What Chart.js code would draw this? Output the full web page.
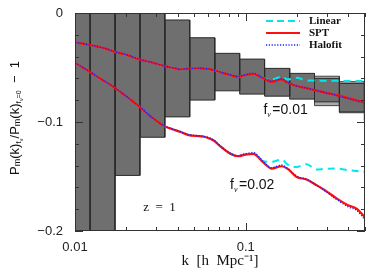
<!DOCTYPE html>
<html>
<head>
<meta charset="utf-8">
<script src="https://cdn.jsdelivr.net/npm/chart.js@4.4.0/dist/chart.umd.min.js"></script>
<style>
  html, body { margin: 0; padding: 0; background: #fff; }
  #wrap { width: 374px; height: 280px; position: relative; }
</style>
</head>
<body>
<div id="wrap"><canvas id="myChart" width="374" height="280"></canvas></div>
<script>
// DATA
const kGrid = [0.0100, 0.0123, 0.0150, 0.0170, 0.0197, 0.0239, 0.0288, 0.0334, 0.0377, 0.0413,
  0.0464, 0.0540, 0.0591, 0.0650, 0.0707, 0.0809, 0.0905, 0.0991, 0.1108, 0.1268,
  0.1419, 0.1624, 0.1761, 0.1987, 0.2274, 0.2602, 0.2909, 0.3406, 0.3981, 0.4459, 0.4986];

const spt01 = [-0.0267, -0.0295, -0.0325, -0.0355, -0.0380, -0.0425, -0.0458, -0.0487, -0.0505, -0.0517,
  -0.0511, -0.0508, -0.0513, -0.0524, -0.0542, -0.0568, -0.0585, -0.0570, -0.0560, -0.0600,
  -0.0631, -0.0610, -0.0640, -0.0670, -0.0690, -0.0712, -0.0730, -0.0753, -0.0780, -0.0800, -0.0815];
const halofit01 = [-0.0267, -0.0295, -0.0325, -0.0354, -0.0379, -0.0424, -0.0457, -0.0486, -0.0503, -0.0515,
  -0.0509, -0.0506, -0.0511, -0.0522, -0.0540, -0.0566, -0.0582, -0.0566, -0.0553, -0.0595,
  -0.0626, -0.0603, -0.0636, -0.0668, -0.0688, -0.0711, -0.0731, -0.0756, -0.0785, -0.0808, -0.0825];
const linear01 = [-0.0267, -0.0295, -0.0325, -0.0355, -0.0380, -0.0425, -0.0458, -0.0487, -0.0505, -0.0517,
  -0.0511, -0.0508, -0.0513, -0.0524, -0.0542, -0.0568, -0.0585, -0.0570, -0.0560, -0.0598,
  -0.0612, -0.0585, -0.0610, -0.0595, -0.0618, -0.0620, -0.0621, -0.0622, -0.0624, -0.0624, -0.0625];

const spt02 = [-0.0456, -0.0544, -0.0629, -0.0683, -0.0759, -0.0861, -0.0970, -0.1038, -0.1069, -0.1090,
  -0.1120, -0.1130, -0.1142, -0.1170, -0.1220, -0.1289, -0.1314, -0.1300, -0.1292, -0.1370,
  -0.1427, -0.1406, -0.1430, -0.1504, -0.1528, -0.1580, -0.1626, -0.1700, -0.1764, -0.1794, -0.1871];
const halofit02 = [-0.0455, -0.0542, -0.0627, -0.0681, -0.0757, -0.0859, -0.0968, -0.1036, -0.1066, -0.1087,
  -0.1117, -0.1126, -0.1137, -0.1166, -0.1216, -0.1285, -0.1309, -0.1292, -0.1280, -0.1362,
  -0.1420, -0.1395, -0.1425, -0.1495, -0.1525, -0.1580, -0.1632, -0.1710, -0.1778, -0.1810, -0.1895];
const linear02 = [-0.0456, -0.0544, -0.0629, -0.0683, -0.0759, -0.0861, -0.0970, -0.1038, -0.1069, -0.1090,
  -0.1120, -0.1130, -0.1142, -0.1170, -0.1220, -0.1289, -0.1314, -0.1300, -0.1292, -0.1360,
  -0.1366, -0.1344, -0.1390, -0.1412, -0.1387, -0.1436, -0.1430, -0.1427, -0.1442, -0.1450, -0.1458];

// error boxes: k bin edges, top and bottom of each box
const boxEdges = [0.00875, 0.01225, 0.01715, 0.0240, 0.0336, 0.0470, 0.0659, 0.0922, 0.129, 0.181, 0.253, 0.354, 0.496, 0.70];
const boxTop = [0, 0, 0, 0, -0.0064, -0.0227, -0.0370, -0.0423, -0.0508, -0.0554, -0.0600, -0.0646, -0.0690];
const boxBottom = [-0.2, -0.2, -0.149, -0.114, -0.0953, -0.0799, -0.0714, -0.0744, -0.0763, -0.0790, -0.0815, -0.0907, -0.0983];
// lighter outer band on the last bins
const bandTop = [-0.0580, -0.0630, -0.0680];
const bandBottom = [-0.0850, -0.0915, -0.1000];

const xTicks = [0.01, 0.02, 0.03, 0.04, 0.05, 0.06, 0.07, 0.08, 0.09, 0.1, 0.2, 0.3, 0.4, 0.5];
const xLabels = { 0.01: "0.01", 0.1: "0.1" };
const yLabels = { "0": "0", "-0.1": "\u22120.1", "-0.2": "\u22120.2" };

//BUILD DATASETS
function pts(ys) {
  return kGrid.map((k, i) => ({ x: k, y: ys[i] }));
}

function box(x0, x1, top, bot, fillCol, lineCol, order) {
  return {
    data: [
      { x: x0, y: top }, { x: x1, y: top }, { x: x1, y: bot },
      { x: x0, y: bot }, { x: x0, y: top },
    ],
    showLine: true,
    fill: "shape",
    backgroundColor: fillCol,
    borderColor: lineCol,
    borderWidth: 1,
    pointRadius: 0,
    tension: 0,
    order: order,
  };
}

const first = boxTop.length - bandTop.length;
const bandSets = bandTop.map((t, i) =>
  box(boxEdges[first + i], boxEdges[first + i + 1], t, bandBottom[i], "#a9a9a9", "#444", 11));
const boxSets = boxTop.map((t, i) =>
  box(boxEdges[i], boxEdges[i + 1], t, boxBottom[i], "#6f6f6f", "#2b2b2b", 10));

function curve(ys, color, width, dash, order) {
  return {
    data: pts(ys),
    showLine: true,
    fill: false,
    borderColor: color,
    borderWidth: width,
    borderDash: dash,
    pointRadius: 0,
    cubicInterpolationMode: "monotone",
    order: order,
  };
}

const datasets = bandSets.concat(boxSets, [
  curve(linear01, "#00e8ec", 2, [7, 5], 3),
  curve(linear02, "#00e8ec", 2, [7, 5], 3),
  curve(spt01, "#ff1010", 2.2, [], 2),
  curve(spt02, "#ff1010", 2.2, [], 2),
  curve(halofit01, "#2020ff", 1.4, [1.2, 1.6], 1),
  curve(halofit02, "#2020ff", 1.4, [1.2, 1.6], 1),
]);

//FRAME, INWARD TICKS, LEGEND AND NOTES
const extras = {
  id: "extras",
  afterDatasetsDraw(chart) {
    const { ctx, chartArea: a, scales } = chart;
    const x = scales.x, y = scales.y;
    ctx.save();
    ctx.strokeStyle = "#333";
    ctx.lineWidth = 1;
    ctx.strokeRect(a.left + 0.5, a.top + 0.5, a.right - a.left - 1, a.bottom - a.top - 1);
    ctx.beginPath();
    xTicks.forEach((v) => {
      const px = Math.round(x.getPixelForValue(v)) + 0.5;
      const len = xLabels[v] ? 8 : 4;
      ctx.moveTo(px, a.bottom); ctx.lineTo(px, a.bottom - len);
      ctx.moveTo(px, a.top); ctx.lineTo(px, a.top + len);
    });
    for (let i = 0; i <= 10; i++) {
      const v = -0.02 * i;
      const py = Math.round(y.getPixelForValue(v)) + 0.5;
      const len = i % 5 === 0 ? 8 : 4;
      ctx.moveTo(a.left, py); ctx.lineTo(a.left + len, py);
      ctx.moveTo(a.right, py); ctx.lineTo(a.right - len, py);
    }
    ctx.stroke();

    // legend
    const items = [
      ["Linear", "#00e8ec", 2, [7, 4]],
      ["SPT", "#ff1010", 2, []],
      ["Halofit", "#2020ff", 1.4, [1.2, 1.6]],
    ];
    ctx.font = "bold 11px 'Liberation Serif'";
    ctx.textBaseline = "middle";
    items.forEach((it, i) => {
      const ly = 21 + i * 12;
      ctx.beginPath();
      ctx.strokeStyle = it[1];
      ctx.lineWidth = it[2];
      ctx.setLineDash(it[3]);
      ctx.moveTo(266, ly); ctx.lineTo(300, ly);
      ctx.stroke();
      ctx.setLineDash([]);
      ctx.fillStyle = "#111";
      ctx.fillText(it[0], 309, ly);
    });

    // annotations
    function fnu(text, k, v) {
      const px = x.getPixelForValue(k), py = y.getPixelForValue(v);
      ctx.font = "14px 'Liberation Sans'";
      ctx.fillStyle = "#111";
      ctx.textBaseline = "alphabetic";
      ctx.fillText("f", px, py);
      const w = ctx.measureText("f").width;
      ctx.font = "italic 8px 'Liberation Serif'";
      ctx.fillText("\u03bd", px + w, py + 3);
      ctx.font = "14px 'Liberation Sans'";
      ctx.fillText(text, px + w + 5, py);
    }
    fnu("=0.01", 0.127, -0.0925);
    fnu("=0.02", 0.081, -0.1615);
    ctx.font = "13px 'Liberation Serif'";
    ctx.fillText("z  =  1", x.getPixelForValue(0.0251), y.getPixelForValue(-0.182));

    // y axis title
    ctx.translate(15, 118);
    ctx.rotate(-Math.PI / 2);
    const parts = [
      ["P", 13, 0], ["m", 9, 3], ["(k)", 13, 0], ["f", 8, 4], ["\u03bd", 6, 6],
      ["/P", 13, 0], ["m", 9, 3], ["(k)", 13, 0], ["f", 8, 4], ["\u03bd", 6, 6], ["=0", 7, 4],
      ["  \u2212  1", 13, 0],
    ];
    let total = 0;
    parts.forEach((p) => { ctx.font = p[1] + "px 'Liberation Sans'"; total += ctx.measureText(p[0]).width; });
    let cx = -total / 2;
    ctx.fillStyle = "#111";
    ctx.textBaseline = "middle";
    parts.forEach((p) => {
      ctx.font = p[1] + "px 'Liberation Sans'";
      ctx.fillText(p[0], cx, p[2]);
      cx += ctx.measureText(p[0]).width;
    });
    ctx.restore();
  },
};

//CHART CONFIGURATION
const config = {
  type: "scatter",
  data: { datasets },
  options: {
    responsive: false,
    animation: false,
    layout: { padding: { left: 0, right: 9, top: 13, bottom: 0 } },
    plugins: { legend: { display: false }, tooltip: { enabled: false } },
    scales: {
      x: {
        type: "logarithmic",
        min: 0.01,
        max: 0.5,
        afterBuildTicks: (s) => { s.ticks = xTicks.map((v) => ({ value: v })); },
        afterFit: (s) => { s.height = 49; },
        grid: { display: false },
        border: { display: false },
        ticks: {
          autoSkip: false,
          maxRotation: 0,
          padding: 1,
          color: "#222",
          font: { family: "Liberation Sans", size: 13 },
          callback: (v) => xLabels[v] || "",
        },
        title: {
          display: true,
          text: "k  [h  Mpc\u207b\u00b9]",
          color: "#111",
          font: { family: "Liberation Serif", size: 15 },
          padding: { top: 0, bottom: 10 },
        },
      },
      y: {
        min: -0.2,
        max: 0,
        afterBuildTicks: (s) => { s.ticks = [0, -0.1, -0.2].map((v) => ({ value: v })); },
        afterFit: (s) => { s.width = 75; },
        grid: { display: false },
        border: { display: false },
        ticks: {
          padding: 4,
          color: "#222",
          font: { family: "Liberation Sans", size: 13 },
          callback: (v) => yLabels[String(Math.round(v * 10) / 10)] || "",
        },
      },
    },
  },
  plugins: [extras],
};

// RENDER CHART
const myChart = new Chart(document.getElementById("myChart"), config);
</script>
</body>
</html>
